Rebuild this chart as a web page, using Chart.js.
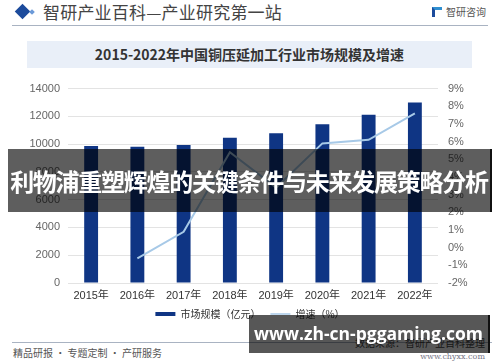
<!DOCTYPE html>
<html>
<head>
<meta charset="utf-8">
<script src="https://cdn.jsdelivr.net/npm/chart.js@4.4.1/dist/chart.umd.min.js"></script>
<style>
  body { margin:0; width:500px; height:362px; overflow:hidden; background:#fff; position:relative; font-family:"Noto Sans CJK SC", sans-serif; }
  .abs { position:absolute; white-space:nowrap; }
  #d1 { left:17px; top:6px; width:11px; height:11px; background:#1c4b9c; transform:rotate(45deg); }
  #d2 { left:30px; top:9.5px; width:4px; height:4px; background:#6b9ad8; transform:rotate(45deg); }
  #head { left:43px; top:0px; font-size:17px; line-height:23px; color:#444; letter-spacing:0.2px; }
  #logoIcon { left:432px; top:7px; width:10px; height:10px; border-left:3px solid #1c4b9c; border-top:3px solid #2f8fd0; box-sizing:border-box; }
  #logoTxt { left:446px; top:4px; font-size:10px; line-height:15px; color:#555; }
  #rule1 { left:12px; top:25px; width:476px; height:1px; background:#a9b3c2; }
  #titleBox { left:27px; top:41px; width:445px; height:27px; background:#e9eff8; text-align:center; font-size:14px; font-weight:bold; line-height:27px; color:#333; }
  #wrap { left:0; top:72px; width:500px; height:257px; }
  #rule2 { left:12px; top:342px; width:480px; height:1px; background:#a9b3c2; }
  #foot { left:13px; top:346px; font-size:10px; line-height:14px; color:#555; }
  #src { right:15px; top:336px; font-size:10px; line-height:14px; color:#444; }
  #site { right:15px; top:351px; font-size:8px; line-height:11px; color:#778; font-family:"DejaVu Serif", serif; }
  #banner { left:8px; top:149px; width:482px; height:63px; background:rgba(0,0,0,0.63); border-right:2px solid #111; color:#fff; font-size:24px; letter-spacing:-1.25px; font-weight:bold; line-height:63px; text-align:center; }
  #wm { left:249px; top:315px; width:239px; height:38px; background:rgba(0,0,0,0.66); border-right:2px solid #111; color:#fff; font-size:17.5px; font-weight:bold; line-height:36px; text-align:center; font-family:"Open Sans","DejaVu Sans",sans-serif; }
</style>
</head>
<body>
<div class="abs" id="d1"></div>
<div class="abs" id="d2"></div>
<div class="abs" id="head">智研产业百科—产业研究第一站</div>
<div class="abs" id="logoIcon"></div>
<div class="abs" id="logoTxt">智研咨询</div>
<div class="abs" id="rule1"></div>
<div class="abs" id="titleBox">2015-2022年中国铜压延加工行业市场规模及增速</div>
<div class="abs" id="wrap"><canvas id="c" width="500" height="257"></canvas></div>
<div class="abs" id="rule2"></div>
<div class="abs" id="foot">精品研报 · 专题定制 · 产研服务</div>
<div class="abs" id="src">数据来源：智研产业百科整理</div>
<div class="abs" id="site">www.chyxx.com</div>
<div class="abs" id="banner">利物浦重塑辉煌的关键条件与未来发展策略分析</div>
<div class="abs" id="wm">www.zh-cn-pggaming.com</div>

<script>
const years = ['2015年','2016年','2017年','2018年','2019年','2020年','2021年','2022年'];
const marketSize = [9860, 9810, 9935, 10460, 10780, 11440, 12110, 13000]; // 亿元
const growth = [null, -0.6, 0.9, 5.4, 3.4, 5.9, 6.1, 7.6]; // %
const leftRange = { min: 0, max: 14000, step: 2000 };
const rightRange = { min: -2, max: 9, step: 1 };

const NAVY = '#0f3584', SKY = '#a7c9e7';
const NUMFONT = '"Liberation Sans", "Noto Sans CJK SC", sans-serif';

new Chart(document.getElementById('c'), {
  data: {
    labels: years,
    datasets: [
      {
        type: 'line',
        label: '增速（%）',
        data: growth,
        yAxisID: 'y1',
        borderColor: SKY,
        borderWidth: 2,
        pointRadius: 0,
        tension: 0,
        order: 0
      },
      {
        type: 'bar',
        label: '市场规模（亿元）',
        data: marketSize,
        yAxisID: 'y',
        backgroundColor: NAVY,
        barPercentage: 0.6,
        categoryPercentage: 0.5,
        order: 1
      }
    ]
  },
  options: {
    responsive: false,
    animation: false,
    layout: { padding: { top: 7, bottom: 0, left: 0, right: 0 } },
    plugins: {
      tooltip: { enabled: false },
      legend: {
        position: 'bottom',
        labels: {
          font: { size: 10, family: '"Noto Sans CJK SC", sans-serif' },
          color: '#333',
          usePointStyle: true,
          pointStyleWidth: 20,
          boxHeight: 10,
          padding: 10,
          generateLabels: () => [
            { text: '市场规模（亿元）', pointStyle: 'line', strokeStyle: NAVY, fillStyle: NAVY, lineWidth: 4, datasetIndex: 1, fontColor: '#333' },
            { text: '增速（%）', pointStyle: 'line', strokeStyle: SKY, fillStyle: SKY, lineWidth: 1.5, datasetIndex: 0, fontColor: '#333' }
          ]
        }
      }
    },
    scales: {
      x: {
        grid: { display: false, drawTicks: false },
        border: { display: false },
        ticks: { color: '#333', font: { size: 11, family: NUMFONT }, padding: 6, maxRotation: 0 },
        afterFit: (s) => { s.height = 16; }
      },
      y: {
        position: 'left',
        min: leftRange.min, max: leftRange.max,
        ticks: { stepSize: leftRange.step, color: '#666', font: { size: 11, family: NUMFONT }, padding: 8, callback: v => String(v) },
        grid: { color: '#e3e3e3', drawTicks: false },
        border: { display: false },
        afterFit: (s) => { s.width = 68; }
      },
      y1: {
        position: 'right',
        min: rightRange.min, max: rightRange.max,
        ticks: { stepSize: rightRange.step, color: '#666', font: { size: 11, family: NUMFONT }, padding: 10, callback: v => v + '%' },
        grid: { display: false, drawTicks: false },
        border: { display: false },
        afterFit: (s) => { s.width = 62; }
      }
    }
  }
});
</script>
</body>
</html>
